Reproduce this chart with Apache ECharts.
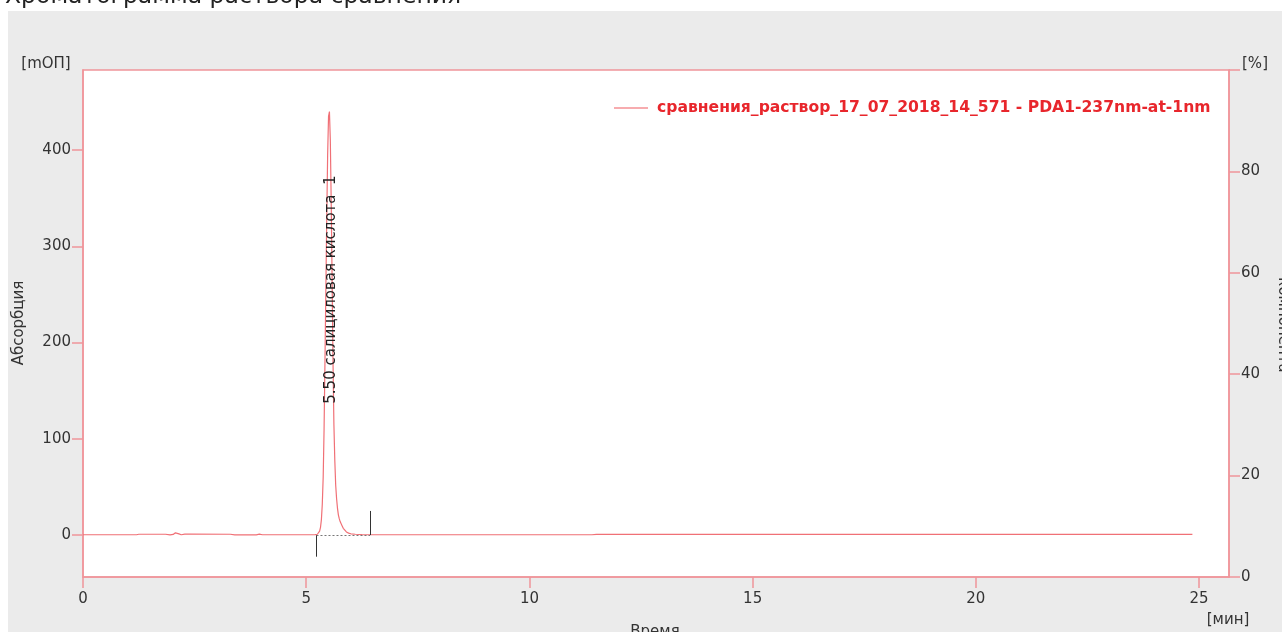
<!DOCTYPE html>
<html>
<head>
<meta charset="utf-8">
<script src="https://cdn.jsdelivr.net/npm/echarts@6/dist/echarts.min.js"></script>
<style>
html,body{margin:0;padding:0;background:#fff;width:1282px;height:632px;overflow:hidden;}
#panel{position:absolute;left:8px;top:11px;width:1274px;height:621px;background:#ebebeb;}
#chart{position:absolute;left:0;top:0;width:1282px;height:632px;}
</style>
</head>
<body>
<div id="panel"></div>
<div id="chart"></div>
<script>
// ---- data ----
const seriesName = 'сравнения_раствор_17_07_2018_14_571 - PDA1-237nm-at-1nm';
const times = [0, 1.20, 1.25, 1.85, 1.95, 2.02, 2.07, 2.11, 2.15, 2.20, 2.28, 2.40, 3.30, 3.40, 3.88, 3.95, 4.02, 5.20, 5.25, 5.28, 5.30, 5.32, 5.34, 5.36, 5.38, 5.40, 5.42, 5.44, 5.46, 5.48, 5.50, 5.52, 5.54, 5.56, 5.58, 5.60, 5.62, 5.64, 5.66, 5.68, 5.70, 5.72, 5.74, 5.76, 5.78, 5.80, 5.83, 5.86, 5.90, 5.95, 6.00, 6.10, 6.25, 11.40, 11.50, 24.85];
const absorb = [0.3, 0.3, 0.8, 0.8, 0.1, 0.6, 2.3, 3.0, 1.2, 0.3, 0.9, 0.9, 0.8, 0.2, 0.2, 0.9, 0.3, 0.4, 0.8, 2, 4, 8, 16, 32, 60, 110, 180, 255, 330, 395, 435, 440, 410, 345, 265, 180, 115, 78, 52, 38, 28, 21, 17, 14, 12, 10, 7, 5, 3.2, 2, 1.3, 0.8, 0.5, 0.3, 0.6, 0.6];
const xTicks = [0, 5, 10, 15, 20, 25];
const yTicks = [0, 100, 200, 300, 400];
const rTicks = [0, 20, 40, 60, 80];
const peakLabel = '5.50 салициловая кислота  1';
const peakLabelPos = [5.55, 255];
const peakStart = [5.23, -22.5];
const peakEnd = [6.43, 25];
const titleText = 'Хроматограмма раствора сравнения';

const pink = '#f0959a';
const FONT = 'DejaVu Sans';

const chart = echarts.init(document.getElementById('chart'), null, {renderer: 'canvas'});
const data = times.map((t, i) => [t, absorb[i]]);

chart.setOption({
  animation: false,
  backgroundColor: 'transparent',
  textStyle: {fontFamily: FONT},
  grid: {
    left: 83, top: 70, right: 53, bottom: 55,
    show: true, backgroundColor: '#fff', borderColor: pink, borderWidth: 1.5
  },
  legend: {
    left: 609, top: 95,
    itemWidth: 34, itemHeight: 1.2,
    data: [{name: seriesName, icon: 'rect'}],
    itemStyle: {color: '#f05a60', borderWidth: 0},
    textStyle: {color: '#e8262c', fontWeight: 'bold', fontSize: 15.6, fontFamily: FONT, padding: [0, 0, 0, 4]}
  },
  xAxis: {
    type: 'value', min: 0, max: 25.67,
    axisLine: {show: true, onZero: false, lineStyle: {color: pink, width: 1.5}},
    axisTick: {show: true, length: 11, customValues: xTicks, lineStyle: {color: pink, width: 1.5}},
    axisLabel: {customValues: xTicks, margin: 15, color: '#333', fontSize: 15, fontFamily: FONT},
    splitLine: {show: false}
  },
  yAxis: [{
    type: 'value', min: -43.6, max: 483.1,
    axisLine: {show: true, lineStyle: {color: pink, width: 1.5}},
    axisTick: {show: true, length: 11, customValues: yTicks, lineStyle: {color: pink, width: 1.5}},
    axisLabel: {customValues: yTicks, margin: 12, color: '#333', fontSize: 15, fontFamily: FONT},
    splitLine: {show: false}
  }, {
    type: 'value', min: 0, max: 100, position: 'right',
    axisLine: {show: true, lineStyle: {color: pink, width: 1.5}},
    axisTick: {show: true, length: 11, customValues: [0, 20, 40, 60, 80, 100], lineStyle: {color: pink, width: 1.5}},
    axisLabel: {customValues: rTicks, margin: 12, color: '#333', fontSize: 15, fontFamily: FONT},
    splitLine: {show: false}
  }],
  series: [{
    name: seriesName,
    type: 'line',
    data: data,
    symbol: 'none',
    lineStyle: {color: '#f07076', width: 1.2},
    itemStyle: {color: '#f07076'},
    markPoint: {
      symbol: 'circle', symbolSize: 0, silent: true,
      data: [{coord: peakLabelPos, value: peakLabel}],
      label: {show: true, position: 'inside', rotate: 90, formatter: peakLabel, color: '#222', fontSize: 15, fontFamily: FONT}
    },
    markLine: {
      silent: true, symbol: ['none', 'none'],
      label: {show: false},
      lineStyle: {color: '#333', width: 1, type: 'solid'},
      data: [
        [{coord: [peakStart[0], 0]}, {coord: peakStart}],
        [{coord: [peakEnd[0], 0]}, {coord: peakEnd}],
        [{coord: [peakStart[0], 0], lineStyle: {color: '#777', type: [2, 2], width: 1}}, {coord: [peakEnd[0], 0]}]
      ]
    }
  }],
  graphic: [
    {type: 'text', left: 5, top: -15, style: {text: titleText, font: '23.5px "DejaVu Sans"', fill: '#222'}},
    {type: 'text', x: 46, y: 64, style: {text: '[mОП]', font: '15px "DejaVu Sans"', fill: '#333', align: 'center', verticalAlign: 'middle'}},
    {type: 'text', x: 1255, y: 64, style: {text: '[%]', font: '15px "DejaVu Sans"', fill: '#333', align: 'center', verticalAlign: 'middle'}},
    {type: 'text', x: 1228, y: 620, style: {text: '[мин]', font: '15px "DejaVu Sans"', fill: '#333', align: 'center', verticalAlign: 'middle'}},
    {type: 'text', x: 655, y: 632, style: {text: 'Время', font: '15px "DejaVu Sans"', fill: '#333', align: 'center', verticalAlign: 'middle'}},
    {type: 'text', x: 19, y: 323, rotation: Math.PI / 2, style: {text: 'Абсорбция', font: '15px "DejaVu Sans"', fill: '#333', align: 'center', verticalAlign: 'middle'}},
    {type: 'text', x: 1283, y: 325, rotation: -Math.PI / 2, style: {text: 'компонента', font: '15px "DejaVu Sans"', fill: '#333', align: 'center', verticalAlign: 'middle'}}
  ]
});
</script>
</body>
</html>
